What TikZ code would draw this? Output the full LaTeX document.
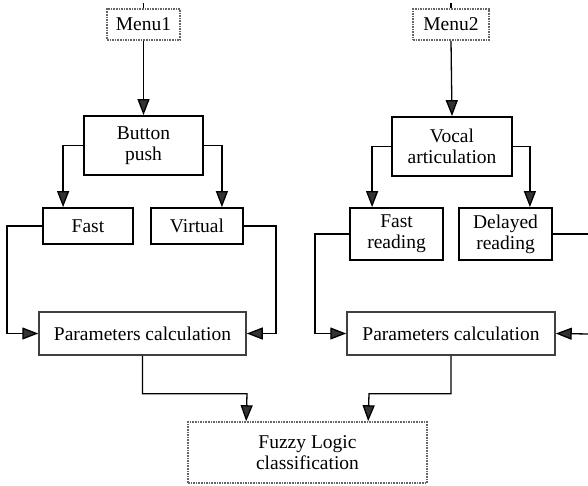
\documentclass[tikz,border=0pt]{standalone}
\usepackage{fontspec}
\setmainfont{Liberation Serif}
\usetikzlibrary{arrows.meta,calc}
\begin{document}
\begin{tikzpicture}[x=1pt,y=-1pt,
  txt/.style={align=center,inner sep=0pt,font=\fontsize{19.5}{21}\selectfont},
  box/.style={txt,draw=black,line width=1.8pt},
  pbox/.style={txt,draw=black!75,line width=1.5pt},
  dbox/.style={txt,draw=black!60,line width=1.6pt,densely dotted},
  conn/.style={line width=1.3pt,draw=black},
  arr/.style={conn,-{Triangle[length=16pt,width=12pt,fill=black!80]}}]
\useasboundingbox (0,0) rectangle (588,485);
% nodes
\node[dbox,minimum width=73pt,minimum height=31pt] (m1) at (143.5,24.5) {Menu1};
\node[dbox,minimum width=76pt,minimum height=31pt] (m2) at (451,24.5) {Menu2};
\node[box,minimum width=119pt,minimum height=59pt] (bp) at (143.5,145.5) {Button\\push};
\node[box,minimum width=120pt,minimum height=59pt] (va) at (452,146.5) {Vocal\\articulation};
\node[box,minimum width=90pt,minimum height=36pt] (fa) at (88,226) {Fast};
\node[box,minimum width=92pt,minimum height=36pt] (vi) at (197,226) {Virtual};
\node[box,minimum width=93pt,minimum height=52pt] (fr) at (396.5,234) {Fast\\reading};
\node[box,minimum width=93pt,minimum height=52pt] (dr) at (505.5,234) {Delayed\\reading};
\node[pbox,minimum width=207pt,minimum height=43pt] (p1) at (142.5,333.5) {Parameters calculation};
\node[pbox,minimum width=208pt,minimum height=43pt] (p2) at (451,333.5) {Parameters calculation};
\node[dbox,minimum width=239pt,minimum height=61pt] (fl) at (307.5,452.5) {Fuzzy Logic\\classification};
% free ends
\coordinate (t1) at (143.5,3);
\coordinate (t2) at (451,3);
\coordinate (e1) at (590,234);
\coordinate (e2) at (590,334);
% connectors
\draw[conn] (t1) -- (m1.north);
\draw[conn] (t2) -- (m2.north);
\draw[arr] (m1.south) -- (bp.north);
\draw[arr] (m2.south) -- (va.north);
\draw[arr] (bp.west) -| ($(fa.north west)+(21,0)$);
\draw[arr] (bp.east) -| ($(vi.north east)+(-22,0)$);
\draw[arr] (va.west) -| ($(fr.north west)+(23,0)$);
\draw[arr] (va.east) -| ($(dr.north east)+(-23,0)$);
\draw[arr] (fa.west) -- ++(-35,0) |- (p1.west);
\draw[arr] (vi.east) -- ++(32,0) |- (p1.east);
\draw[arr] (fr.west) -- ++(-34,0) |- (p2.west);
\draw[conn] (dr.east) -- (e1);
\draw[arr] (e2) -- (p2.east);
\draw[arr] (p1.south) |- ++(104.5,38) -- ($(fl.north west)+(59,0)$);
\draw[arr] (p2.south) |- ++(-82,38) -- ($(fl.north west)+(181,0)$);
\end{tikzpicture}
\end{document}
